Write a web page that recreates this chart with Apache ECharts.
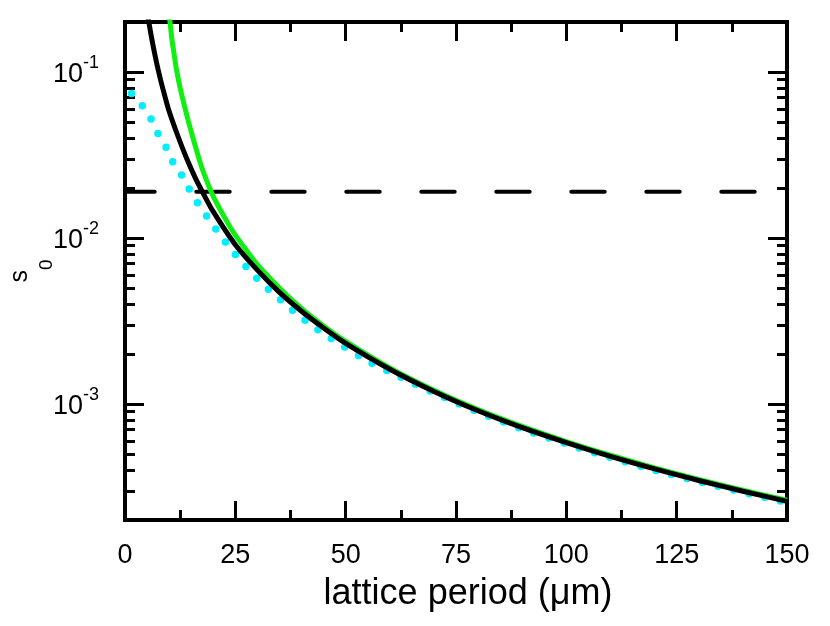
<!DOCTYPE html>
<html>
<head>
<meta charset="utf-8">
<script src="https://cdn.jsdelivr.net/npm/echarts@6/dist/echarts.min.js"></script>
<style>
html,body{margin:0;padding:0;background:#fff;}
#main{width:830px;height:626px;}
</style>
</head>
<body>
<div id="main"></div>
<script>
// ---- data ----
const xTicks = [0, 25, 50, 75, 100, 125, 150];
const yMajorTicks = [0.001, 0.01, 0.1];
const yMinorTicks = [0.0002, 0.0003, 0.0004, 0.0005, 0.0006, 0.0007, 0.0008, 0.0009,
                     0.002, 0.003, 0.004, 0.005, 0.006, 0.007, 0.008, 0.009,
                     0.02, 0.03, 0.04, 0.05, 0.06, 0.07, 0.08, 0.09, 0.2];

const blackX = [5.2, 6, 7, 8, 9, 10, 12, 14, 16, 18, 20, 25, 30, 35, 40, 45, 50, 60, 70, 80, 90, 100, 110, 120, 130, 140, 150];
const blackY = [0.215, 0.162, 0.119, 0.091, 0.072, 0.058, 0.041, 0.030, 0.0228, 0.0180, 0.0144, 0.0091, 0.0064, 0.0047, 0.00362, 0.00287, 0.00232, 0.00162, 0.00119, 0.00091, 0.00072, 0.000585, 0.000483, 0.000406, 0.000346, 0.000298, 0.000259];

const greenX = [10.0, 10.6, 11, 11.7, 12.5, 13.5, 14.35, 15.5, 17, 18, 19.6, 21, 23, 25, 28, 30, 35, 40, 45, 50, 60, 70, 80, 90, 100, 110, 120, 130, 140, 150];
const greenY = [0.225, 0.160, 0.135, 0.102, 0.080, 0.062, 0.0505, 0.0392, 0.0287, 0.0240, 0.0188, 0.0158, 0.0127, 0.0104, 0.0081, 0.0069, 0.0050, 0.00376, 0.00295, 0.00238, 0.00165, 0.00121, 0.000925, 0.000732, 0.000594, 0.000491, 0.000412, 0.000351, 0.000302, 0.000263];

const cyanX = [1.5, 4.15, 6.05, 7.55, 9.45, 10.9, 12.85, 14.6, 16.4, 18.65, 20.8, 23.0, 25.3, 27.7, 30.2, 32.9, 35.9, 38.7, 41.8, 44.8, 48.0, 55, 60, 70, 80, 90, 100, 110, 120, 130, 140, 150];
const cyanY = [0.0741, 0.0615, 0.0512, 0.0422, 0.0346, 0.0285, 0.0239, 0.0196, 0.0163, 0.0134, 0.0111, 0.0093, 0.0078, 0.0066, 0.0056, 0.0048, 0.0041, 0.00353, 0.00305, 0.00268, 0.00236, 0.00182, 0.00156, 0.00117, 0.000895, 0.000708, 0.000576, 0.000476, 0.000400, 0.000341, 0.000294, 0.000255];

const dashedX = [0, 150];
const dashedLevel = 0.019;

// ---- chart ----
const FONT = 'Liberation Sans, Arial, Helvetica, sans-serif';
const pairs = (xs, ys) => xs.map((x, i) => [x, ys[i]]);

const chart = echarts.init(document.getElementById('main'), null, {renderer: 'canvas'});

const frameLine = {show: true, onZero: false, lineStyle: {color: '#000', width: 4, cap: 'square'}};
const hiddenLine = {show: false, onZero: false};

function xAxisDef(pos, main) {
  return {
    type: 'value', min: 0, max: 150, interval: 25, position: pos,
    axisLine: frameLine,
    axisTick: {show: true, inside: true, length: 19, lineStyle: {color: '#000', width: 3}},
    minorTick: {show: true, splitNumber: 2, length: 10, lineStyle: {color: '#000', width: 3}},
    splitLine: {show: false}, minorSplitLine: {show: false},
    axisLabel: main ? {show: true, color: '#000', fontSize: 27, fontFamily: FONT, margin: 22,
                       customValues: xTicks} : {show: false},
    name: main ? 'lattice period (\u03bcm)' : '',
    nameLocation: 'middle', nameGap: 56, nameMoveOverlap: false,
    nameTextStyle: {color: '#000', fontSize: 36, fontFamily: FONT, padding: [0, 0, 0, 24]}
  };
}

function yAxisDef(pos, major, label) {
  return {
    type: 'log', logBase: 10, min: 0.0002, max: 0.2, position: pos, offset: 0,
    axisLine: major ? frameLine : hiddenLine,
    axisTick: {show: true, inside: true, length: major ? 19 : 10,
               customValues: major ? yMajorTicks : yMinorTicks,
               lineStyle: {color: '#000', width: 3}},
    minorTick: {show: false},
    splitLine: {show: false},
    axisLabel: label ? {
      show: true, margin: 26, customValues: yMajorTicks,
      formatter: v => '{b|10}{s|' + Math.round(Math.log10(v)) + '}',
      rich: {
        b: {fontSize: 27, fontFamily: FONT, color: '#000', lineHeight: 36, padding: [5, 0, 0, 0]},
        s: {fontSize: 18, fontFamily: FONT, color: '#000', lineHeight: 18, verticalAlign: 'top'}
      }
    } : {show: false},
    name: label ? '{a|s}{b|0}' : '',
    nameLocation: 'middle', nameGap: 69, nameRotate: 90, nameMoveOverlap: false,
    nameTextStyle: {
      rich: {
        a: {fontSize: 25, fontFamily: FONT, color: '#000', lineHeight: 25, verticalAlign: 'top'},
        b: {fontSize: 19, fontFamily: FONT, color: '#000', lineHeight: 48, verticalAlign: 'bottom'}
      }
    }
  };
}

chart.setOption({
  animation: false,
  backgroundColor: '#fff',
  grid: {left: 125, right: 43, top: 22, bottom: 106, containLabel: false, outerBoundsMode: 'none'},
  xAxis: [xAxisDef('bottom', true), xAxisDef('top', false)],
  yAxis: [yAxisDef('left', true, true), yAxisDef('left', false, false),
          yAxisDef('right', true, false), yAxisDef('right', false, false)],
  series: [
    {
      name: 'level', type: 'line', xAxisIndex: 0, yAxisIndex: 0, showSymbol: false, symbol: 'none',
      data: dashedX.map(x => [x, dashedLevel]),
      lineStyle: {color: '#000', width: 4, type: [33.4, 41.6], dashOffset: 3.7, cap: 'round'},
      z: 2
    },
    {
      name: 'cyan', type: 'line', xAxisIndex: 0, yAxisIndex: 0, showSymbol: false, symbol: 'none',
      smooth: 0.3, data: pairs(cyanX, cyanY),
      lineStyle: {color: '#00eeff', width: 7.5, type: [0, 16], cap: 'round'},
      z: 3
    },
    {
      name: 'green', type: 'line', xAxisIndex: 0, yAxisIndex: 0, showSymbol: false, symbol: 'none',
      smooth: 0.3, data: pairs(greenX, greenY),
      lineStyle: {color: '#11ee11', width: 5},
      z: 4
    },
    {
      name: 'black', type: 'line', xAxisIndex: 0, yAxisIndex: 0, showSymbol: false, symbol: 'none',
      smooth: 0.3, data: pairs(blackX, blackY),
      lineStyle: {color: '#000', width: 5},
      z: 5
    }
  ]
});
</script>
</body>
</html>
